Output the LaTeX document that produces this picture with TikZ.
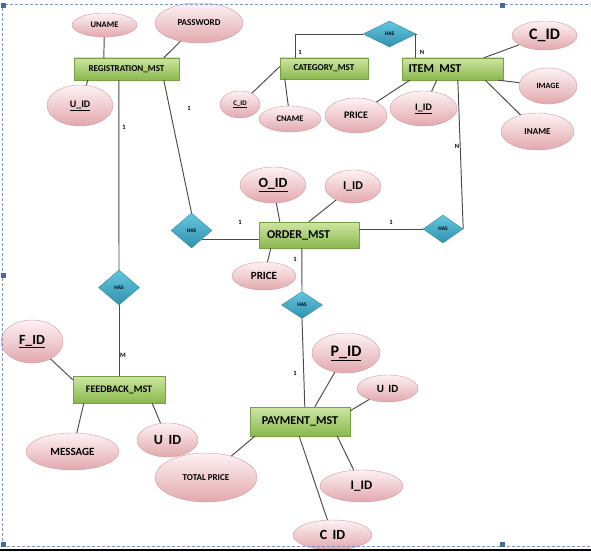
\documentclass[tikz,border=0pt]{standalone}
\usepackage{fontspec}
\setmainfont{Carlito}
\usetikzlibrary{shapes.geometric,calc}
\definecolor{entTop}{RGB}{205,230,160}
\definecolor{entBot}{RGB}{138,184,78}
\definecolor{entLine}{RGB}{120,158,70}
\definecolor{attTop}{RGB}{253,242,243}
\definecolor{attBot}{RGB}{226,168,173}
\definecolor{attLine}{RGB}{210,155,160}
\definecolor{relTop}{RGB}{100,198,222}
\definecolor{relBot}{RGB}{50,145,175}
\definecolor{relLine}{RGB}{55,140,165}
\definecolor{frameC}{RGB}{120,150,200}
\definecolor{handleC}{RGB}{70,105,160}
\definecolor{linkC}{RGB}{75,75,75}
\newcommand{\fsz}[1]{\fontsize{#1}{#1}\selectfont}
\begin{document}
\begin{tikzpicture}[x=1pt,y=-1pt,
 ent/.style={rectangle, draw=entLine, top color=entTop, bottom color=entBot, inner sep=0, font=\bfseries},
 att/.style={ellipse, draw=attLine, top color=attTop, bottom color=attBot, inner sep=0, font=\bfseries},
 rel/.style={diamond, draw=relLine, top color=relTop, bottom color=relBot, inner sep=0, font=\bfseries\fsz{5.5}},
 link/.style={draw=linkC, line width=0.95},
 card/.style={font=\bfseries\fsz{6.5}, inner sep=0},
]
\useasboundingbox (0,0) rectangle (591,551);
\fill[white] (0,0) rectangle (591,551);

% entities
\node[ent, minimum width=105, minimum height=22] (reg) at (126.5,69) {\fsz{9}REGISTRATION\_MST};
\node[ent, minimum width=88, minimum height=21] (cat) at (324,68.5) {\fsz{9}CATEGORY\_MST};
\node[ent, minimum width=101, minimum height=22] (item) at (452.5,69) {\fsz{12}\makebox[88pt][l]{ITEM\ \ MST}};
\node[ent, minimum width=100, minimum height=26] (order) at (309,235) {\fsz{12}\makebox[84pt][l]{ORDER\_MST}};
\node[ent, minimum width=92, minimum height=27] (fb) at (119,389.5) {\fsz{10}FEEDBACK\_MST};
\node[ent, minimum width=100, minimum height=29] (pay) at (300,421.5) {\fsz{12}PAYMENT\_MST};

% attributes
\node[att, minimum width=65, minimum height=24] (uname) at (104.5,25) {\fsz{8.5}UNAME};
\node[att, minimum width=88, minimum height=40] (pass) at (199,23) {\fsz{9}PASSWORD};
\node[att, minimum width=66, minimum height=41] (uid1) at (80,105.5) {\fsz{10}\underline{U\_ID}};
\node[att, minimum width=40, minimum height=27] (cid1) at (240,104.5) {\fsz{7}\underline{C\_ID}};
\node[att, minimum width=62, minimum height=26] (cname) at (290,119) {\fsz{8.5}CNAME};
\node[att, minimum width=62, minimum height=35] (price1) at (356,115.5) {\fsz{10}PRICE};
\node[att, minimum width=67, minimum height=35] (iid1) at (423.5,108.5) {\fsz{10}\underline{I\_ID}};
\node[att, minimum width=65, minimum height=29] (cid2) at (544.5,35.5) {\fsz{16}C\_ID};
\node[att, minimum width=58, minimum height=36] (image) at (548,86) {\fsz{8}IMAGE};
\node[att, minimum width=73, minimum height=37] (iname) at (537.5,131.5) {\fsz{9}INAME};
\node[att, minimum width=66, minimum height=36] (oid) at (273,185) {\fsz{14}\underline{O\_ID}};
\node[att, minimum width=56, minimum height=33] (iid2) at (353,186.5) {\fsz{12}I\_ID};
\node[att, minimum width=64, minimum height=28] (price2) at (264,276) {\fsz{11}PRICE};
\node[att, minimum width=62, minimum height=43] (fid) at (32,341.5) {\fsz{14}\underline{F\_ID}};
\node[att, minimum width=93, minimum height=37] (msg) at (72.5,451.5) {\fsz{11}MESSAGE};
\node[att, minimum width=61, minimum height=34] (uid2) at (167.5,440) {\fsz{14}U\ \,ID};
\node[att, minimum width=68, minimum height=40] (pid) at (346,353) {\fsz{16}\underline{P\_ID}};
\node[att, minimum width=61, minimum height=27] (uid3) at (387.5,388.5) {\fsz{11}U\ \,ID};
\node[att, minimum width=102, minimum height=49] (tprice) at (206,477.5) {\fsz{9}TOTAL PRICE};
\node[att, minimum width=83, minimum height=32] (iid3) at (361.5,486) {\fsz{13}I\_ID};
\node[att, minimum width=79, minimum height=30] (cid3) at (332.5,535) {\fsz{14}C\ \,ID};

% relationships
\node[rel, minimum width=53, minimum height=26] (hastop) at (389.5,34) {HAS};
\node[rel, minimum width=41, minimum height=35] (hasl) at (191.5,230.5) {HAS};
\node[rel, minimum width=40, minimum height=28] (hasr) at (443,229) {HAS};
\node[rel, minimum width=41, minimum height=27] (hasb) at (302,305) {HAS};
\node[rel, minimum width=41, minimum height=35] (hasfb) at (119,287.5) {HAS};

% attribute links
\draw[link] (uname) -- ([xshift=30]reg.north west);
\draw[link] (pass) -- ([xshift=90]reg.north west);
\draw[link] (uid1) -- ([xshift=14]reg.south west);
\draw[link] (cid1) -- ([yshift=2]cat.west);
\draw[link] (cname) -- ([xshift=5]cat.south west);
\draw[link] (price1) -- ([xshift=8]item.south west);
\draw[link] (iid1) -- ([xshift=35]item.south west);
\draw[link] (cid2) -- ([xshift=82]item.north west);
\draw[link] (image) -- ([xshift=-5]item.south east);
\draw[link] (iname) -- ([xshift=-18]item.south east);
\draw[link] (oid) -- ([xshift=21]order.north west);
\draw[link] (iid2) -- ([xshift=50]order.north west);
\draw[link] (price2) -- ([xshift=12]order.south west);
\draw[link] (fid) -- ([yshift=-4]fb.north west);
\draw[link] (msg) -- ([xshift=11]fb.south west);
\draw[link] (uid2) -- ([xshift=-13]fb.south east);
\draw[link] (pid) -- ([xshift=65]pay.north west);
\draw[link] (uid3) -- ([yshift=-4]pay.north east);
\draw[link] (tprice) -- ([xshift=5]pay.south west);
\draw[link] (iid3) -- ([xshift=-13]pay.south east);
\draw[link] (cid3) -- ([xshift=-51]pay.south east);

% relationship links
\draw[link] ([xshift=45]reg.south west) -- (hasfb.north);
\draw[link] (hasfb.south) -- (fb.north);
\draw[link] ([xshift=90]reg.south west) -- (hasl.north);
\draw[link] (hasl.south east) -- (hasl.south east -| order.west);
\draw[link] (hasr.west) -- (hasr.west -| order.east);
\draw[link] ([xshift=56]item.south west) -- (hasr.east);
\draw[link] ([xshift=16]cat.north west) |- (hastop.west);
\draw[link] (hastop.east) -| ([xshift=14]item.north west);
\draw[link] ([xshift=43]order.south west) -- (hasb.north);
\draw[link] (hasb.south) -- ([xshift=55]pay.north west);

% cardinalities
\node[card] (c1) at (124,127) {1};
\node[card] (c2) at (189,108) {1};
\node[card] (c3) at (300,52) {1};
\node[card] (c4) at (422,52) {N};
\node[card] (c5) at (457,146) {N};
\node[card] (c6) at (240,222) {1};
\node[card] (c7) at (391,222) {1};
\node[card] (c8) at (295,259) {1};
\node[card] (c9) at (295,373) {1};
\node[card] (c10) at (123,355) {M};

% frame
\draw[frameC, dash pattern=on 3pt off 2pt, line width=0.9] (2,546) -- (2,4) -- (591,4);
\draw[frameC, dash pattern=on 3pt off 2pt, line width=0.9] (2,546) -- (591,546);
\draw[black, line width=1.5] (0,549.75) -- (591,549.75);
\fill[handleC] (1,3) rectangle (6,8);
\fill[handleC] (1,273) rectangle (6,278);
\fill[handleC] (1,542) rectangle (6,547);
\fill[handleC] (500,3) rectangle (505,8);
\fill[handleC] (500,542) rectangle (505,547);
\end{tikzpicture}
\end{document}
